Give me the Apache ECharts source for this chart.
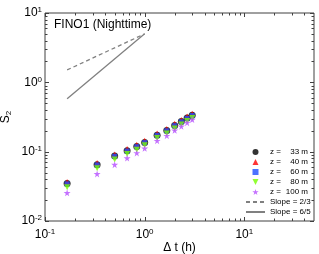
<!DOCTYPE html>
<html><head><meta charset="utf-8">
<script src="https://cdn.jsdelivr.net/npm/echarts@6/dist/echarts.min.js"></script>
<style>html,body{margin:0;padding:0;background:#fff}#c{width:319px;height:254px}</style>
</head><body><div id="c"></div>
<script>
// Data (Δt in hours, structure function S2)
const dt   = [0.1667, 0.3333, 0.5, 0.6667, 0.8333, 1.0, 1.3333, 1.6667, 2.0, 2.3333, 2.6667, 3.0];
const s33  = [0.0347, 0.0650, 0.0865, 0.103, 0.119, 0.136, 0.173, 0.202, 0.239, 0.272, 0.305, 0.335];
const s40  = [0.0366, 0.0685, 0.0910, 0.109, 0.126, 0.144, 0.183, 0.213, 0.252, 0.287, 0.321, 0.353];
const s60  = [0.0343, 0.0644, 0.0856, 0.102, 0.118, 0.135, 0.172, 0.200, 0.237, 0.270, 0.302, 0.332];
const s80  = [0.0308, 0.0578, 0.0770, 0.0925, 0.107, 0.124, 0.157, 0.183, 0.216, 0.247, 0.277, 0.305];
const s100 = [0.0255, 0.0478, 0.0650, 0.0810, 0.0957, 0.112, 0.144, 0.170, 0.203, 0.232, 0.262, 0.290];
const slopeX  = [0.1667, 1.0];
const slope23 = [1.51, 5.0];
const slope65 = [0.58, 5.0];
const names = ['z =   33 m', 'z =   40 m', 'z =   60 m', 'z =   80 m', 'z = 100 m', 'Slope = 2/3', 'Slope = 6/5'];
const xMajor = [0.1, 1, 10];
const yMajor = [0.01, 0.1, 1, 10];
const xMin = 0.1, xMax = 50, yMin = 0.01, yMax = 10;

const pairs = (xs, ys) => xs.map((x, i) => [x, ys[i]]);
const minor = [];
[0.1, 1, 10].forEach(d => { for (let k = 2; k <= 9; k++) { const v = d * k; if (v < xMax) minor.push([v, 1, 1]); } });
[0.01, 0.1, 1].forEach(d => { for (let k = 2; k <= 9; k++) minor.push([1, d * k, 3]); });
xMajor.forEach(v => minor.push([v, 1, 0]));
yMajor.forEach(v => minor.push([1, v, 2]));

const exp = v => Math.round(Math.log10(v));
const isPow = v => Math.abs(Math.log10(v) - exp(v)) < 1e-6;
const lblRich = {
  b: {fontSize: 12, fontFamily: 'Liberation Sans', color: '#000', lineHeight: 14},
  s: {fontSize: 8, fontFamily: 'Liberation Sans', color: '#000', verticalAlign: 'top', lineHeight: 14, padding: [0, 0, 7, 0]}
};
const fmt = v => isPow(v) ? '{b|10}{s|' + exp(v) + '}' : '';

const CIRCLE = 'path://M5,0 A5,5 0 1,1 5,10 A5,5 0 1,1 5,0 Z';
const TRIUP = 'path://M5,0 L10,10 L0,10 Z';
const SQUARE = 'path://M0,0 L10,0 L10,10 L0,10 Z';
const STAR = 'path://M50,0 L61,35 L98,35 L68,57 L79,91 L50,70 L21,91 L32,57 L2,35 L39,35 Z';
const TRIDOWN = 'path://M0,0 L10,0 L5,10 Z';
const legendIcons = [CIRCLE, TRIUP, SQUARE, TRIDOWN, STAR];

const chart = echarts.init(document.getElementById('c'), null, {renderer: 'canvas'});
const sc = (name, data, symbol, size, color) => ({
  type: 'scatter', name, data: pairs(dt, data), symbol, symbolSize: size,
  itemStyle: {color}, z: 3
});
chart.setOption({
  animation: false,
  grid: {left: 45, right: 5, top: 13, bottom: 33, outerBoundsMode: 'none', containLabel: false,
    show: true, borderColor: '#404040', borderWidth: 1},
  title: {text: 'FINO1 (Nighttime)', left: 54, top: 19, padding: 0,
    textStyle: {fontSize: 12, fontWeight: 'normal', fontFamily: 'Liberation Sans', color: '#000'}},
  xAxis: {type: 'log', logBase: 10, min: xMin, max: xMax,
    name: 'Δ t (h)', nameLocation: 'middle', nameGap: 21, nameMoveOverlap: false,
    nameTextStyle: {fontSize: 12, fontFamily: 'Liberation Sans', color: '#000'},
    axisLine: {show: false}, axisTick: {show: false}, splitLine: {show: false},
    axisLabel: {formatter: fmt, rich: lblRich, margin: 7, showMaxLabel: false}},
  yAxis: {type: 'log', logBase: 10, min: yMin, max: yMax,
    name: '{a|S}{c|2}', nameLocation: 'middle', nameGap: 32, nameRotate: 90, nameMoveOverlap: false,
    nameTextStyle: {rich: {
      a: {fontSize: 12, fontFamily: 'Liberation Sans', color: '#000', lineHeight: 14},
      c: {fontSize: 8, fontFamily: 'Liberation Sans', color: '#000', verticalAlign: 'bottom', lineHeight: 14, padding: [5, 0, 0, 0]}}},
    axisLine: {show: false}, axisTick: {show: false}, splitLine: {show: false},
    axisLabel: {formatter: fmt, rich: lblRich, margin: 3}},
  legend: {left: 245, top: 147, padding: 0, orient: 'vertical', itemWidth: 19, itemHeight: 6, itemGap: 0,
    data: names.map((n, i) => i < 5 ? {name: n, icon: legendIcons[i]} : {name: n, itemStyle: {opacity: 0}}),
    formatter: n => n.startsWith('z') ? '{a|z =}{b|' + n.slice(3).trim() + '}' : n,
    textStyle: {fontSize: 8, fontFamily: 'Liberation Sans', color: '#000', lineHeight: 10,
      rich: {a: {fontSize: 8, fontFamily: 'Liberation Sans', width: 11, lineHeight: 10},
             b: {fontSize: 8, fontFamily: 'Liberation Sans', width: 27, align: 'right', lineHeight: 10}}}},
  series: [
    sc(names[0], s33, 'circle', 7, '#000000'),
    sc(names[1], s40, 'triangle', 6, '#ff0000'),
    sc(names[2], s60, 'rect', 5, '#1f4fff'),
    sc(names[3], s80, TRIDOWN, 6, '#77ff00'),
    sc(names[4], s100, STAR, 7, '#b54cff'),
    {type: 'line', name: names[5], data: pairs(slopeX, slope23), symbol: 'none', showSymbol: false,
      lineStyle: {color: '#808080', width: 1.3, type: [4, 3]}, itemStyle: {color: '#808080', opacity: 0}},
    {type: 'line', name: names[6], data: pairs(slopeX, slope65), symbol: 'none', showSymbol: false,
      lineStyle: {color: '#808080', width: 1.3}, itemStyle: {color: '#808080', opacity: 0}},
    {type: 'custom', silent: true, data: minor, encode: {x: 0, y: 1}, z: 1,
      renderItem: (params, api) => {
        const cs = params.coordSys;
        const kind = api.value(2);
        const st = {stroke: '#404040', lineWidth: 1};
        const len = (kind === 0 || kind === 2) ? 4 : 2.5;
        if (kind < 2) {
          const px = Math.round(api.coord([api.value(0), 1])[0]) + 0.5;
          return {type: 'group', children: [
            {type: 'line', shape: {x1: px, y1: cs.y + cs.height, x2: px, y2: cs.y + cs.height - len}, style: st},
            {type: 'line', shape: {x1: px, y1: cs.y, x2: px, y2: cs.y + len}, style: st}]};
        } else {
          const py = Math.round(api.coord([1, api.value(1)])[1]) + 0.5;
          return {type: 'group', children: [
            {type: 'line', shape: {x1: cs.x, y1: py, x2: cs.x + len, y2: py}, style: st},
            {type: 'line', shape: {x1: cs.x + cs.width, y1: py, x2: cs.x + cs.width - len, y2: py}, style: st}]};
        }
      }}
  ]
});
</script></body></html>
